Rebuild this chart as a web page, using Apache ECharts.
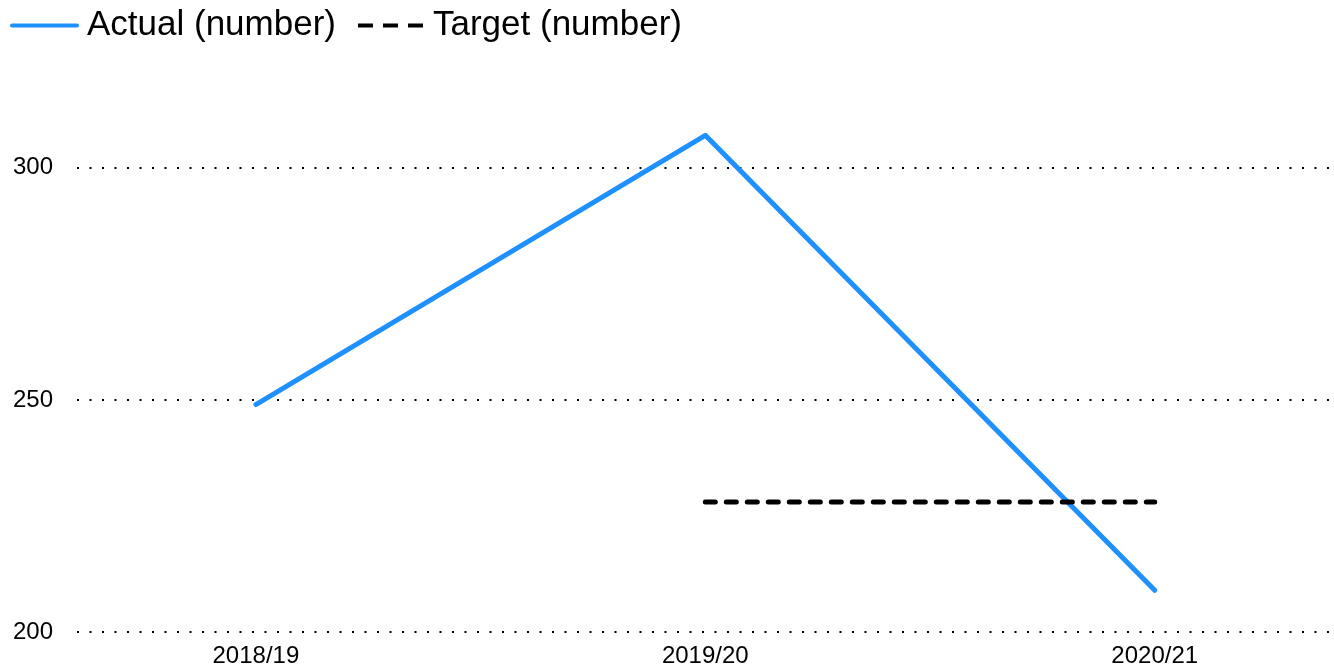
<!DOCTYPE html>
<html>
<head>
<meta charset="utf-8">
<script src="https://cdn.jsdelivr.net/npm/echarts@6/dist/echarts.min.js"></script>
<style>
  html, body { margin: 0; padding: 0; background: #fff; }
  #chart { width: 1334px; height: 671px; }
</style>
</head>
<body>
<div id="chart"></div>
<script>
const categories = ['2018/19', '2019/20', '2020/21']
const actual = [249, 307, 209]
const target = [null, 228, 228]
const yTicks = [200, 250, 300]

const font = 'Arial, "Liberation Sans", sans-serif'

const toPoints = (vals) => vals.map((v, i) => [i, v])

const chart = echarts.init(document.getElementById('chart'))

chart.setOption({
  animation: false,
  grid: {
    left: 77,
    right: 4,
    top: 75,
    bottom: 39,
    containLabel: false
  },
  legend: {
    left: 5,
    top: 3,
    itemWidth: 65,
    itemHeight: 36,
    itemGap: 20,
    itemStyle: { opacity: 0 },
    textStyle: {
      fontFamily: font,
      fontSize: 35,
      color: '#000',
      padding: [0, 0, 0, 5]
    },
    data: [
      {
        name: 'Actual (number)',
        lineStyle: { width: 4, color: '#1e90ff', type: 'solid' }
      },
      {
        name: 'Target (number)',
        lineStyle: { width: 4, color: '#000', type: [15, 10], cap: 'butt' }
      }
    ]
  },
  xAxis: {
    type: 'value',
    min: -0.398,
    max: 2.39,
    axisLine: { show: false },
    axisTick: { show: false },
    splitLine: { show: false },
    axisLabel: {
      customValues: [0, 1, 2],
      formatter: (v) => categories[Math.round(v)],
      fontFamily: font,
      fontSize: 24,
      color: '#000',
      margin: 12
    }
  },
  yAxis: {
    type: 'value',
    min: 200,
    max: 320,
    interval: 50,
    axisLine: { show: false },
    axisTick: { show: false },
    axisLabel: {
      showMaxLabel: false,
      fontFamily: font,
      fontSize: 24,
      color: '#000',
      margin: 24
    },
    splitLine: {
      show: true,
      showMaxLine: false,
      lineStyle: {
        color: '#000',
        width: 2,
        type: [2, 10.5]
      }
    }
  },
  series: [
    {
      name: 'Actual (number)',
      type: 'line',
      symbol: 'none',
      data: toPoints(actual),
      lineStyle: {
        color: '#1e90ff',
        width: 5,
        cap: 'round',
        join: 'round'
      },
      itemStyle: { color: '#1e90ff' }
    },
    {
      name: 'Target (number)',
      type: 'line',
      symbol: 'none',
      data: toPoints(target),
      lineStyle: {
        color: '#000',
        width: 5,
        type: [10, 11],
        cap: 'round'
      },
      itemStyle: { color: '#000' }
    }
  ]
})
</script>
</body>
</html>
